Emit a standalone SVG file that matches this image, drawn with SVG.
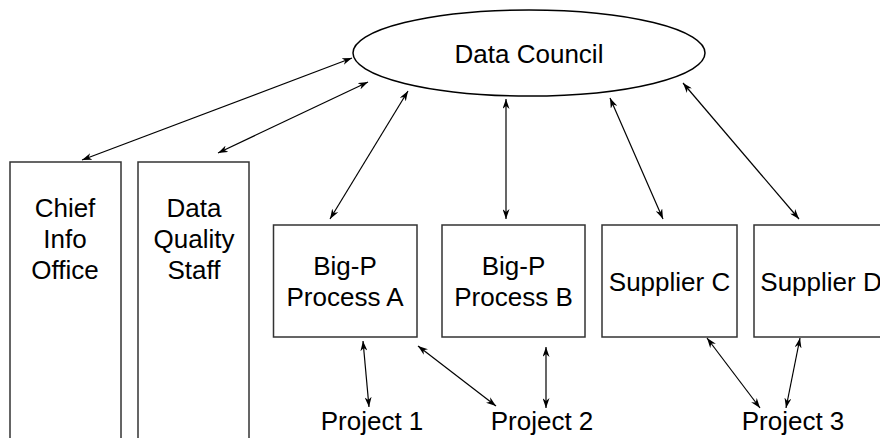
<svg xmlns="http://www.w3.org/2000/svg" width="880" height="438" viewBox="0 0 880 438">
<defs>
<marker id="ah" viewBox="0 0 10 7" refX="10" refY="3.5" markerWidth="10" markerHeight="7" markerUnits="userSpaceOnUse" orient="auto-start-reverse">
<path d="M0,0 L10,3.5 L0,7 L3,3.5 z" fill="#000"/>
</marker>
</defs>
<style>
.box{fill:#fff;stroke:#333;stroke-width:1.5}
.ell{fill:#fff;stroke:#000;stroke-width:1.5}
text{font-family:"Liberation Sans",Arial,sans-serif;font-size:26px;fill:#000;text-anchor:middle}
.c line{stroke:#000;stroke-width:1.2;marker-start:url(#ah);marker-end:url(#ah)}
</style>
<rect width="880" height="438" fill="#fff"/>
<g id="council">
<ellipse class="ell" cx="529" cy="53" rx="176" ry="43"/>
<text x="529" y="63">Data Council</text>
</g>
<g id="cio">
<rect class="box" x="10" y="162" width="111" height="290"/>
<text x="65" y="217">Chief</text>
<text x="65" y="248">Info</text>
<text x="65" y="279">Office</text>
</g>
<g id="dqs">
<rect class="box" x="138" y="162" width="111" height="290"/>
<text x="194" y="217">Data</text>
<text x="194" y="248">Quality</text>
<text x="194" y="279">Staff</text>
</g>
<g id="bigpA">
<rect class="box" x="273.500" y="225" width="143.500" height="112"/>
<text x="345" y="275">Big-P</text>
<text x="345" y="306">Process A</text>
</g>
<g id="bigpB">
<rect class="box" x="442" y="225" width="143" height="112"/>
<text x="513.500" y="275">Big-P</text>
<text x="513.500" y="306">Process B</text>
</g>
<g id="supC">
<rect class="box" x="602" y="225" width="135" height="112"/>
<text x="669.500" y="291">Supplier C</text>
</g>
<g id="supD">
<rect class="box" x="754" y="225" width="136" height="112"/>
<text x="821" y="291">Supplier D</text>
</g>
<g id="p1"><text x="372" y="430">Project 1</text></g>
<g id="p2"><text x="542" y="430">Project 2</text></g>
<g id="p3"><text x="793" y="430">Project 3</text></g>
<g id="connectors" class="c">
<line x1="82" y1="160" x2="352" y2="58"/>
<line x1="218" y1="153" x2="368" y2="82"/>
<line x1="330" y1="219" x2="408" y2="91"/>
<line x1="506" y1="219" x2="506" y2="99"/>
<line x1="663" y1="219" x2="610" y2="98"/>
<line x1="799" y1="219" x2="683" y2="83"/>
<line x1="363" y1="341" x2="369" y2="407"/>
<line x1="418" y1="346" x2="496" y2="406"/>
<line x1="546" y1="347" x2="546" y2="408"/>
<line x1="707" y1="338" x2="760" y2="408"/>
<line x1="800" y1="338" x2="786" y2="408"/>
</g>
</svg>
